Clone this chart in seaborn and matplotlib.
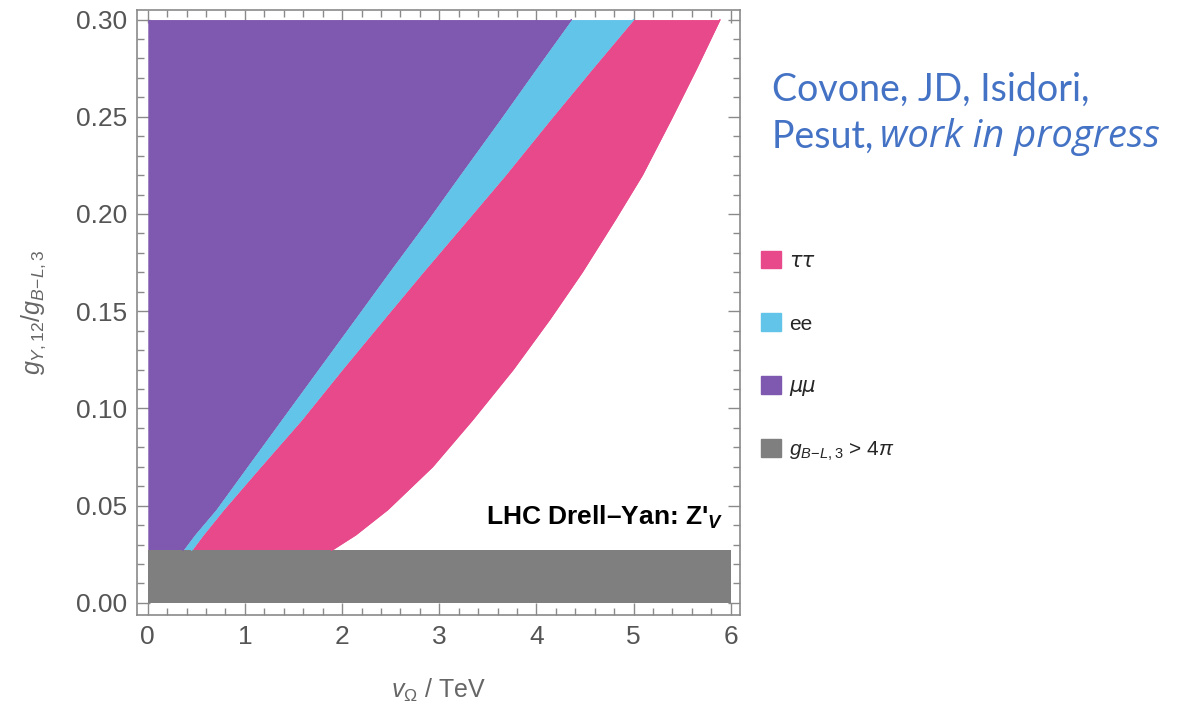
import numpy as np
import pandas as pd
import matplotlib
matplotlib.use("Agg")
import matplotlib.pyplot as plt
import seaborn as sns
from matplotlib.patches import Patch
from matplotlib.ticker import MultipleLocator

# boundary points (y = g_Y,12 / g_B-L,3, x = v_Omega in TeV)
ratio = [0.027, 0.035, 0.048, 0.070, 0.094, 0.120, 0.146, 0.170, 0.197, 0.220, 0.249, 0.275, 0.30]
x_mumu = [0.36, 0.48, 0.70, 1.02, 1.37, 1.75, 2.13, 2.48, 2.88, 3.21, 3.63, 4.00, 4.36]
x_ee = [0.45, 0.57, 0.78, 1.16, 1.58, 2.00, 2.43, 2.83, 3.29, 3.68, 4.15, 4.58, 5.00]
x_tautau = [1.89, 2.14, 2.47, 2.93, 3.34, 3.76, 4.14, 4.47, 4.81, 5.09, 5.39, 5.65, 5.89]
pert_limit = 0.027  # g_B-L,3 > 4 pi below this
x_max = 6.0

colors = {"tautau": "#E8498A", "ee": "#62C4E9", "mumu": "#7F58AF", "pert": "#7F7F7F"}

df = pd.DataFrame({"ratio": ratio, "mumu": x_mumu, "ee": x_ee, "tautau": x_tautau})

sns.set_style("ticks")
plt.rcParams["font.family"] = ["Liberation Sans", "DejaVu Sans"]
plt.rcParams["mathtext.fontset"] = "custom"
plt.rcParams["mathtext.rm"] = "Liberation Sans"
plt.rcParams["mathtext.it"] = "Liberation Sans:italic"
plt.rcParams["mathtext.bf"] = "Liberation Sans:bold"
plt.rcParams["mathtext.bfit"] = "Liberation Sans:italic:bold"

fig = plt.figure(figsize=(12, 7.02), dpi=100)
ax = fig.add_axes([0.114, 0.124, 0.503, 0.862])

# filled regions
ax.fill_betweenx(df["ratio"], 0, df["mumu"], color=colors["mumu"], lw=0)
ax.fill_betweenx(df["ratio"], df["mumu"], df["ee"], color=colors["ee"], lw=0)
ax.fill_betweenx(df["ratio"], df["ee"], df["tautau"], color=colors["tautau"], lw=0)
for col in ["mumu", "ee", "tautau"]:
    sns.lineplot(data=df, x=col, y="ratio", orient="y", color=colors[col], lw=1, ax=ax)
ax.fill_between([0, x_max], 0, pert_limit, color=colors["pert"], lw=0)

ax.set_xlim(-0.113, 6.10)
ax.set_ylim(-0.0062, 0.305)
ax.xaxis.set_major_locator(MultipleLocator(1))
ax.xaxis.set_minor_locator(MultipleLocator(0.2))
ax.yaxis.set_major_locator(MultipleLocator(0.05))
ax.yaxis.set_minor_locator(MultipleLocator(0.01))
ax.yaxis.set_major_formatter(matplotlib.ticker.FormatStrFormatter("%.2f"))

frame_col = "#8a8a8a"
for s in ax.spines.values():
    s.set_color(frame_col)
    s.set_linewidth(1.2)
ax.tick_params(which="both", direction="in", top=True, right=True, color=frame_col,
               labelcolor="#555555", labelsize=19, pad=7)
ax.tick_params(which="major", length=9, width=1)
ax.tick_params(which="minor", length=5, width=1)

ax.set_xlabel(r"$v_\Omega$ / TeV", fontsize=18, color="#666666", labelpad=20)
ax.set_ylabel(r"$g_{Y,12}/g_{B\!-\!L,3}$", fontsize=18, color="#666666", labelpad=20)

ax.text(5.93, 0.044, r"LHC Drell–Yan: Z'$_{\mathbfit{V}}$", fontsize=19,
        fontweight="bold", ha="right", va="center", color="black")

handles = [Patch(color=colors["tautau"], label="ττ"),
           Patch(color=colors["ee"], label="ee"),
           Patch(color=colors["mumu"], label="μμ"),
           Patch(color=colors["pert"], label=r"$g_{B\!-\!L,3}$ > 4$\pi$")]
leg = fig.legend(handles=handles, loc="upper left", bbox_to_anchor=(0.627, 0.655),
                 frameon=False, fontsize=15, handlelength=0.95, handleheight=0.95,
                 handletextpad=0.4, labelspacing=2.05, borderaxespad=0)
for t in leg.get_texts()[0::2][:2]:
    t.set_fontstyle("italic")
    t.set_family("DejaVu Sans")

fig.text(0.643, 0.872, "Covone, JD, Isidori,", fontsize=27, color="#4472C4",
         family="Lato", va="center")
fig.text(0.643, 0.805, "Pesut, ", fontsize=27, color="#4472C4", family="Lato", va="center")
fig.text(0.733, 0.805, "work in progress", fontsize=27.5, color="#4472C4", family="Open Sans",
         style="italic", va="center")

fig.savefig("out.png", dpi=100)
